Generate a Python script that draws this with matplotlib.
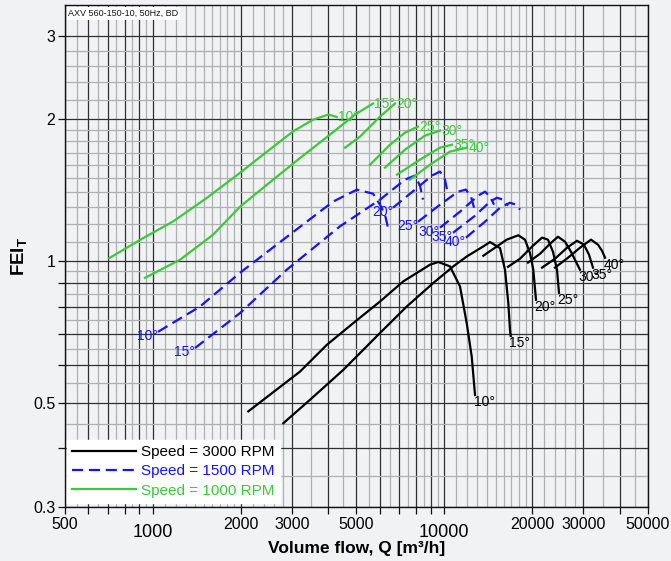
import numpy as np
import matplotlib
matplotlib.use("Agg")
import matplotlib.pyplot as plt
from matplotlib.ticker import FixedLocator, FixedFormatter, NullFormatter

plt.rcParams['font.family'] = ['Liberation Sans', 'DejaVu Sans']
plt.rcParams['mathtext.fontset'] = 'custom'
plt.rcParams['mathtext.rm'] = 'Liberation Sans'
plt.rcParams['mathtext.bf'] = 'Liberation Sans:bold'

# ---------------- data (Q in m3/h, FEI_T) ----------------
# 3000 RPM (black, solid)
q3000_10 = [2127, 3200, 3951, 4876, 6020, 7234, 8936, 9541, 10463, 11324, 11940, 12424, 12752]
f3000_10 = [0.479, 0.582, 0.663, 0.738, 0.820, 0.905, 0.982, 0.995, 0.974, 0.883, 0.738, 0.626, 0.519]
q3000_15 = [2805, 3463, 4506, 6020, 7433, 9172, 10741, 11940, 13614, 14355, 15537, 16159, 16586, 16808, 16900]
f3000_15 = [0.452, 0.507, 0.587, 0.703, 0.800, 0.898, 0.974, 1.022, 1.074, 1.097, 1.065, 0.958, 0.814, 0.714, 0.693]
q3000_20 = [13614, 16377, 17955, 18923, 19683, 20205, 20643]
f3000_20 = [1.026, 1.110, 1.134, 1.110, 1.040, 0.958, 0.827]
q3000_25 = [16546, 18192, 20004, 21647, 22693, 23609, 24366, 24753]
f3000_25 = [0.972, 1.011, 1.073, 1.121, 1.110, 1.046, 0.958, 0.856]
q3000_30 = [19374, 21305, 23054, 24559, 25959, 27220, 28312, 29218]
f3000_30 = [0.992, 1.036, 1.088, 1.126, 1.099, 1.046, 0.996, 0.958]
q3000_35 = [21647, 23983, 26371, 28533, 30160, 31381, 32378]
f3000_35 = [0.968, 1.011, 1.067, 1.104, 1.083, 1.031, 0.968]
q3000_40 = [23983, 26580, 29218, 31875, 33695, 34776, 35612]
f3000_40 = [0.968, 1.016, 1.067, 1.110, 1.083, 1.051, 1.016]

# 1500 RPM (blue, dashed)
q1500_10 = [1042, 1452, 1992, 2888, 4153, 5019, 5697, 6020, 6261, 6413]
f1500_10 = [0.707, 0.800, 0.944, 1.126, 1.337, 1.418, 1.390, 1.317, 1.254, 1.177]
q1500_15 = [1396, 1992, 2881, 4389, 6020, 7333, 7935, 8255, 8453]
f1500_15 = [0.653, 0.775, 0.958, 1.185, 1.350, 1.489, 1.519, 1.446, 1.350]
q1500_20 = [6672, 7935, 9078, 9670, 10059, 10302]
f1500_20 = [1.298, 1.418, 1.519, 1.549, 1.489, 1.383]
q1500_25 = [8128, 9670, 11146, 11868, 12353, 12652]
f1500_25 = [1.212, 1.317, 1.404, 1.418, 1.370, 1.298]
q1500_30 = [9670, 11324, 13061, 13797, 14355, 14819]
f1500_30 = [1.177, 1.273, 1.376, 1.404, 1.370, 1.317]
q1500_35 = [10716, 12752, 14355, 15170, 15904, 16546]
f1500_35 = [1.148, 1.248, 1.337, 1.363, 1.350, 1.311]
q1500_40 = [11868, 13797, 15537, 16808, 17628, 18196]
f1500_40 = [1.121, 1.212, 1.298, 1.330, 1.317, 1.286]

# 1000 RPM (green, solid)
q1000_10 = [709, 928, 1176, 1531, 1992, 2273, 3035, 3555, 4003, 4277]
f1000_10 = [1.014, 1.119, 1.214, 1.361, 1.539, 1.642, 1.887, 1.998, 2.047, 2.024]
q1000_15 = [941, 1240, 1610, 1992, 2466, 3150, 4056, 4941, 5697]
f1000_15 = [0.921, 1.006, 1.137, 1.304, 1.453, 1.642, 1.856, 2.047, 2.161]
q1000_20 = [4566, 5140, 6020, 6778]
f1000_20 = [1.741, 1.838, 2.027, 2.161]
q1000_25 = [5564, 6516, 7333, 8128]
f1000_25 = [1.602, 1.767, 1.874, 1.930]
q1000_30 = [6261, 7333, 8590, 9670]
f1000_30 = [1.579, 1.724, 1.847, 1.893]
q1000_35 = [6886, 8255, 9670, 10633]
f1000_35 = [1.526, 1.642, 1.741, 1.767]
q1000_40 = [7629, 8936, 10463, 11968]
f1000_40 = [1.489, 1.602, 1.708, 1.741]

angles = [10, 15, 20, 25, 30, 35, 40]
speed_labels = ["Speed = 3000 RPM", "Speed = 1500 RPM", "Speed = 1000 RPM"]

x_tick_vals = [500, 1000, 2000, 3000, 5000, 10000, 20000, 30000, 50000]
y_tick_vals = [0.3, 0.5, 1, 2, 3]
title_text = "AXV 560-150-10, 50Hz, BD"

# ---------------- styling ----------------
BLACK = "#000000"
BLUE = "#1414ff"
GREEN = "#3cc83c"
BG = "#f1f2f4"

fig = plt.figure(figsize=(6.71, 5.61), dpi=100, facecolor=BG)
ax = fig.add_axes([65 / 671, 54 / 561, 583 / 671, 502 / 561])
ax.set_facecolor(BG)
ax.set_xscale('log')
ax.set_yscale('log')
ax.set_xlim(500, 50000)
ax.set_ylim(0.3, 3.5)

# grid positions (graph-paper style)
def decade_major(lo, hi):
    out = []
    for d in [0.1, 1, 10, 100, 1000, 10000]:
        for k in range(1, 10):
            v = k * d
            if lo - 1e-9 <= v <= hi + 1e-9:
                out.append(round(v, 6))
    return out

def decade_minor(lo, hi):
    fr = [1.1, 1.2, 1.3, 1.4, 1.5, 1.6, 1.7, 1.8, 1.9, 2.2, 2.4, 2.6, 2.8,
          3.5, 4.5, 5.5, 6.5, 7.5, 8.5, 9.5]
    out = []
    for d in [0.1, 1, 10, 100, 1000, 10000]:
        for f in fr:
            v = f * d
            if lo < v < hi:
                out.append(round(v, 6))
    return out

xmaj = decade_major(500, 50000)
ymaj = decade_major(0.3, 3.5)
ax.xaxis.set_major_locator(FixedLocator(xmaj))
ax.yaxis.set_major_locator(FixedLocator(ymaj))
ax.xaxis.set_minor_locator(FixedLocator(decade_minor(500, 50000)))
ax.yaxis.set_minor_locator(FixedLocator(decade_minor(0.3, 3.5)))
ax.xaxis.set_minor_formatter(NullFormatter())
ax.yaxis.set_minor_formatter(NullFormatter())

def fmt_x(v):
    return str(int(v)) if any(abs(v - t) < 1e-6 for t in x_tick_vals) else ""

def fmt_y(v):
    for t in y_tick_vals:
        if abs(v - t) < 1e-6:
            return ("%g" % t)
    return ""

ax.xaxis.set_major_formatter(FixedFormatter([fmt_x(v) for v in xmaj]))
ax.yaxis.set_major_formatter(FixedFormatter([fmt_y(v) for v in ymaj]))

ax.grid(which='major', color='#303030', linewidth=0.9)
ax.grid(which='minor', color='#b0b0b0', linewidth=0.9)
ax.set_axisbelow(True)
ax.tick_params(which='major', direction='out', length=5, width=0.9, color='#111',
               labelsize=11.5, pad=2)
ax.tick_params(which='minor', length=0)
for sp in ax.spines.values():
    sp.set_color('#111')
    sp.set_linewidth(1.0)

for t, v in zip(ax.xaxis.get_major_ticks(), xmaj):
    if v in (1000, 10000):
        t.tick1line.set_markersize(9)
        t.label1.set_fontsize(13)
        t.set_pad(7)

# ---------------- curves ----------------
series = {
    BLACK: [(q3000_10, f3000_10), (q3000_15, f3000_15), (q3000_20, f3000_20),
            (q3000_25, f3000_25), (q3000_30, f3000_30), (q3000_35, f3000_35),
            (q3000_40, f3000_40)],
    BLUE: [(q1500_10, f1500_10), (q1500_15, f1500_15), (q1500_20, f1500_20),
           (q1500_25, f1500_25), (q1500_30, f1500_30), (q1500_35, f1500_35),
           (q1500_40, f1500_40)],
    GREEN: [(q1000_10, f1000_10), (q1000_15, f1000_15), (q1000_20, f1000_20),
            (q1000_25, f1000_25), (q1000_30, f1000_30), (q1000_35, f1000_35),
            (q1000_40, f1000_40)],
}
styles = {BLACK: '-', BLUE: (0, (5, 2.6)), GREEN: '-'}

handles = []
for color, lab in zip([BLACK, BLUE, GREEN], speed_labels):
    for i, (q, f) in enumerate(series[color]):
        ln, = ax.plot(q, f, color=color, linestyle=styles[color], linewidth=1.6,
                      label=lab if i == 0 else None, zorder=3)
        if i == 0:
            handles.append(ln)
        a = angles[i]
        txt = "%d°" % a
        if color == BLACK:
            ax.annotate(txt, (q[-1], f[-1]), xytext=(-1, 0), textcoords='offset points',
                        ha='left', va='top', fontsize=10, color=color, zorder=4)
        elif color == GREEN:
            ax.annotate(txt, (q[-1], f[-1]), xytext=(1, 0), textcoords='offset points',
                        ha='left', va='center', fontsize=10, color=color, zorder=4)
        else:
            ax.annotate(txt, (q[0], f[0]), xytext=(0, -3), textcoords='offset points',
                        ha='right', va='center', fontsize=10, color=color, zorder=4)

leg = ax.legend(handles=handles, loc='lower left', bbox_to_anchor=(0.003, 0.008),
                borderaxespad=0, fontsize=11, handlelength=4.2, handletextpad=0.3,
                frameon=True, fancybox=False, labelcolor='linecolor',
                borderpad=0.35, labelspacing=0.35)
leg.get_frame().set_facecolor('white')
leg.get_frame().set_edgecolor('white')
leg.get_frame().set_alpha(1)

ax.text(0.006, 0.992, title_text, transform=ax.transAxes, ha='left', va='top',
        fontsize=6.5, color='#111', zorder=5,
        bbox=dict(facecolor='white', edgecolor='none', pad=1.2))

ax.set_xlabel("Volume flow, Q [m³/h]", fontsize=12.5, fontweight='bold', labelpad=0)
ax.set_ylabel(r"$\mathbf{FEI}_\mathbf{T}$", fontsize=13.5, labelpad=2)

fig.savefig("out.png", dpi=100, facecolor=BG)
